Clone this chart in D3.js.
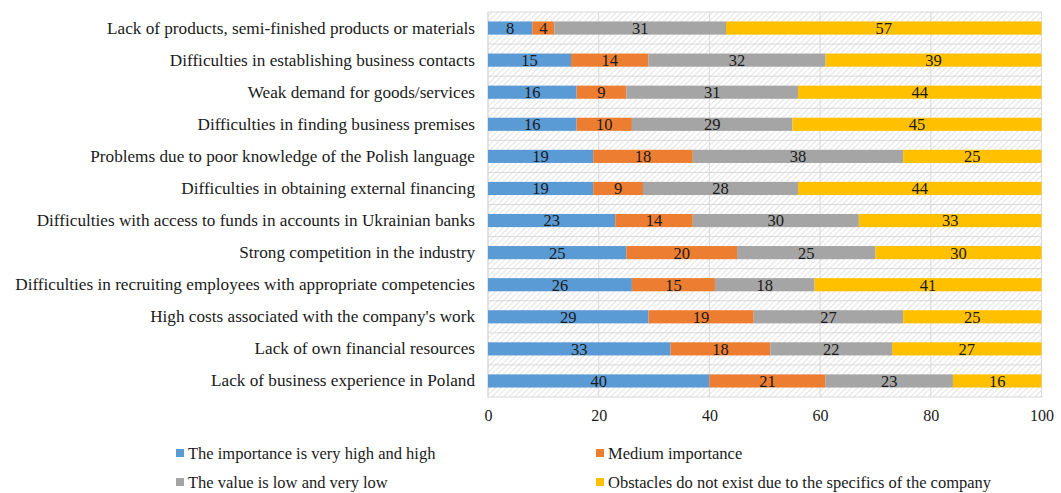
<!DOCTYPE html>
<html>
<head>
<meta charset="utf-8">
<script src="https://cdn.jsdelivr.net/npm/d3@7"></script>
<style>
  body { margin: 0; background: #fff; }
  svg { font-family: "Liberation Serif", "Times New Roman", serif; }
</style>
</head>
<body>
<div id="chart"></div>
<script>
// chart data
const categories = [
  "Lack of products, semi-finished products or materials",
  "Difficulties in establishing business contacts",
  "Weak demand for goods/services",
  "Difficulties in finding business premises",
  "Problems due to poor knowledge of the Polish language",
  "Difficulties in obtaining external financing",
  "Difficulties with access to funds in accounts in Ukrainian banks",
  "Strong competition in the industry",
  "Difficulties in recruiting employees with appropriate competencies",
  "High costs associated with the company's work",
  "Lack of own financial resources",
  "Lack of business experience in Poland"
];
const seriesNames = [
  "The importance is very high and high",
  "Medium importance",
  "The value is low and very low",
  "Obstacles do not exist due to the specifics of the company"
];
const veryHigh = [8, 15, 16, 16, 19, 19, 23, 25, 26, 29, 33, 40];
const medium = [4, 14, 9, 10, 18, 9, 14, 20, 15, 19, 18, 21];
const low = [31, 32, 31, 29, 38, 28, 30, 25, 18, 27, 22, 23];
const noObstacle = [57, 39, 44, 45, 25, 44, 33, 30, 41, 25, 27, 16];
const xTicks = [0, 20, 40, 60, 80, 100];
const colors = ["#5b9bd5", "#ed7d31", "#a5a5a5", "#ffc000"];

const width = 1061, height = 493;
const margin = { left: 488, right: 19.5, top: 12, bottom: 96 };

const svg = d3.select("#chart").append("svg")
  .attr("width", width)
  .attr("height", height);

// hatch pattern for the plot background
const defs = svg.append("defs");
const pat = defs.append("pattern")
  .attr("id", "hatch")
  .attr("patternUnits", "userSpaceOnUse")
  .attr("width", 4)
  .attr("height", 4)
  .attr("patternTransform", "rotate(45)");
pat.append("line")
  .attr("x1", 0).attr("y1", 0).attr("x2", 0).attr("y2", 4)
  .attr("stroke", "#dcdcdc")
  .attr("stroke-width", 1.6);

const x = d3.scaleLinear()
  .domain([0, 100])
  .range([margin.left, width - margin.right]);

const y = d3.scaleBand()
  .domain(categories)
  .range([margin.top, height - margin.bottom])
  .paddingInner(0.59)
  .paddingOuter(0.295);

// band boundaries (for horizontal grid)
const band = d3.scaleBand()
  .domain(categories)
  .range([margin.top, height - margin.bottom]);

svg.append("rect")
  .attr("x", x(0))
  .attr("y", margin.top)
  .attr("width", x(100) - x(0))
  .attr("height", height - margin.bottom - margin.top)
  .attr("fill", "url(#hatch)")
  .attr("stroke", "#d9d9d9");

// horizontal lines between categories
svg.append("g")
  .selectAll("line")
  .data(categories.slice(1))
  .join("line")
  .attr("x1", x(0))
  .attr("x2", x(100))
  .attr("y1", (d) => band(d))
  .attr("y2", (d) => band(d))
  .attr("stroke", "#d9d9d9");

// vertical grid lines
svg.append("g")
  .selectAll("line")
  .data(xTicks)
  .join("line")
  .attr("x1", (d) => x(d))
  .attr("x2", (d) => x(d))
  .attr("y1", margin.top)
  .attr("y2", height - margin.bottom)
  .attr("stroke", "#d9d9d9");

// stack the series
const rows = categories.map((c, i) => ({
  cat: c,
  s0: veryHigh[i],
  s1: medium[i],
  s2: low[i],
  s3: noObstacle[i]
}));
const stack = d3.stack().keys(["s0", "s1", "s2", "s3"]);
const stacked = stack(rows);

const groups = svg.append("g")
  .selectAll("g")
  .data(stacked)
  .join("g")
  .attr("fill", (d, i) => colors[i]);

groups.selectAll("rect")
  .data((d) => d)
  .join("rect")
  .attr("x", (d) => x(d[0]))
  .attr("y", (d) => y(d.data.cat))
  .attr("width", (d) => x(d[1]) - x(d[0]))
  .attr("height", y.bandwidth());

// value labels
groups.selectAll("text")
  .data((d) => d)
  .join("text")
  .attr("x", (d) => (x(d[0]) + x(d[1])) / 2)
  .attr("y", (d) => y(d.data.cat) + y.bandwidth() / 2)
  .attr("dy", "0.36em")
  .attr("text-anchor", "middle")
  .attr("fill", "#1a1a1a")
  .attr("font-size", 16.5)
  .text((d) => d[1] - d[0]);

// category labels
svg.append("g")
  .selectAll("text")
  .data(categories)
  .join("text")
  .attr("x", 475)
  .attr("y", (d) => band(d) + band.bandwidth() / 2)
  .attr("dy", "0.32em")
  .attr("text-anchor", "end")
  .attr("fill", "#1a1a1a")
  .attr("font-size", 17.2)
  .text((d) => d);

// x axis
const xAxis = d3.axisBottom(x).tickValues(xTicks).tickSize(0).tickPadding(13);
const gx = svg.append("g")
  .attr("transform", `translate(0, ${height - margin.bottom})`)
  .call(xAxis);
gx.select(".domain").remove();
gx.selectAll("text")
  .attr("font-family", "Liberation Serif, serif")
  .attr("font-size", 16)
  .attr("fill", "#1a1a1a");

// legend
const legendPos = [
  [176, 459], [596, 459], [176, 488], [596, 488]
];
const legend = svg.append("g")
  .selectAll("g")
  .data(seriesNames)
  .join("g")
  .attr("transform", (d, i) => `translate(${legendPos[i][0]}, ${legendPos[i][1]})`);
legend.append("rect")
  .attr("x", 0).attr("y", -10)
  .attr("width", 8).attr("height", 8)
  .attr("fill", (d, i) => colors[i]);
legend.append("text")
  .attr("x", 12)
  .attr("y", 0)
  .attr("fill", "#1a1a1a")
  .attr("font-size", 16.5)
  .text((d) => d);
</script>
</body>
</html>
